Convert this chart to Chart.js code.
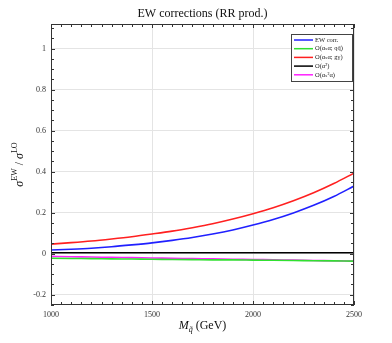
<!DOCTYPE html>
<html>
<head>
<meta charset="utf-8">
<script src="https://cdn.jsdelivr.net/npm/chart.js@4.4.1/dist/chart.umd.min.js"></script>
<style>
  html, body { margin: 0; padding: 0; background: #fff; }
  #wrap { width: 392px; height: 343px; }
</style>
</head>
<body>
<div id="wrap"><canvas id="ewChart" width="392" height="343"></canvas></div>
<script>
// squark mass grid (GeV)
const masses = [1000, 1100, 1200, 1300, 1400, 1500, 1600, 1700, 1800, 1900, 2000, 2100, 2200, 2300, 2400, 2500];

// relative corrections sigma^EW / sigma^LO
const ewCorr   = [0.018, 0.022, 0.027, 0.034, 0.043, 0.053, 0.065, 0.079, 0.096, 0.116, 0.140, 0.167, 0.199, 0.236, 0.279, 0.330];
const qqbarAs  = [-0.022, -0.023, -0.024, -0.025, -0.026, -0.027, -0.028, -0.029, -0.030, -0.030, -0.031, -0.032, -0.033, -0.034, -0.035, -0.036];
const gammaAs  = [0.047, 0.054, 0.062, 0.072, 0.083, 0.096, 0.110, 0.127, 0.146, 0.169, 0.195, 0.224, 0.258, 0.297, 0.342, 0.393];
const alpha2   = [0.005, 0.005, 0.005, 0.005, 0.005, 0.005, 0.005, 0.005, 0.005, 0.005, 0.005, 0.005, 0.005, 0.005, 0.005, 0.005];
const as2alpha = [-0.013, -0.015, -0.016, -0.018, -0.019, -0.021, -0.022, -0.024, -0.025, -0.027, -0.028, -0.030, -0.031, -0.033, -0.034, -0.036];

const seriesLabels = ["EW corr.", "O(αₛα; qq̄)", "O(αₛα; gγ)", "O(α²)", "O(αₛ²α)"];
const seriesColors = ["#2020ff", "#30e030", "#ff2020", "#000000", "#ff20ff"];

// axis ticks
const xTicks = [1000, 1500, 2000, 2500];
const xTickLabels = ["1000", "1500", "2000", "2500"];
const yTicks = [-0.2, 0, 0.2, 0.4, 0.6, 0.8, 1];
const yTickLabels = ["-0.2", "0", "0.2", "0.4", "0.6", "0.8", "1"];

const SERIF = "'Liberation Serif', 'DejaVu Serif', serif";

function toPoints(vals) {
    return masses.map((m, i) => ({ x: m, y: vals[i] }));
}

// frame, inward ticks, title, axis titles and legend
const decorPlugin = {
    id: "decor",
    afterDraw(chart) {
        const ctx = chart.ctx;
        const a = chart.chartArea;
        const xs = chart.scales.x;
        const ys = chart.scales.y;
        ctx.save();

        // frame
        ctx.strokeStyle = "#333";
        ctx.lineWidth = 1;
        ctx.strokeRect(a.left + 0.5, a.top + 0.5, a.right - a.left - 1, a.bottom - a.top - 1);

        // ticks, pointing inward on all four sides
        ctx.beginPath();
        for (let v = 1000; v <= 2500; v += 50) {
            const px = Math.round(xs.getPixelForValue(v)) + 0.5;
            const len = v % 500 === 0 ? 4 : 3;
            ctx.moveTo(px, a.bottom); ctx.lineTo(px, a.bottom - len);
            ctx.moveTo(px, a.top); ctx.lineTo(px, a.top + len);
        }
        for (let k = -5; k <= 22; k++) {
            const v = k * 0.05;
            const py = Math.round(ys.getPixelForValue(v)) + 0.5;
            const len = k % 4 === 0 ? 4 : 3;
            ctx.moveTo(a.left, py); ctx.lineTo(a.left + len, py);
            ctx.moveTo(a.right, py); ctx.lineTo(a.right - len, py);
        }
        ctx.stroke();

        // title
        const cx = (a.left + a.right) / 2;
        ctx.fillStyle = "#111";
        ctx.font = "12px " + SERIF;
        ctx.textAlign = "center";
        ctx.textBaseline = "middle";
        ctx.fillText("EW corrections (RR prod.)", cx, 14);

        // x axis title: M_q~ (GeV)
        ctx.font = "italic 12px " + SERIF;
        const mW = ctx.measureText("M").width;
        ctx.font = "italic 8px " + SERIF;
        const qW = ctx.measureText("q̃").width;
        ctx.font = "12px " + SERIF;
        const gW = ctx.measureText(" (GeV)").width;
        let x0 = cx - (mW + qW + gW) / 2;
        const yT = 326;
        ctx.textAlign = "left";
        ctx.font = "italic 12px " + SERIF;
        ctx.fillText("M", x0, yT);
        ctx.font = "italic 8px " + SERIF;
        ctx.fillText("q̃", x0 + mW, yT + 4);
        ctx.font = "12px " + SERIF;
        ctx.fillText(" (GeV)", x0 + mW + qW, yT);

        // y axis title: sigma^EW / sigma^LO
        ctx.save();
        ctx.translate(20, (a.top + a.bottom) / 2);
        ctx.rotate(-Math.PI / 2);
        const parts = [
            { t: "σ", f: "italic 12px " + SERIF, dy: 0 },
            { t: "EW", f: "8px " + SERIF, dy: -5 },
            { t: " / ", f: "12px " + SERIF, dy: 0 },
            { t: "σ", f: "italic 12px " + SERIF, dy: 0 },
            { t: "LO", f: "8px " + SERIF, dy: -5 }
        ];
        let total = 0;
        parts.forEach(p => { ctx.font = p.f; p.w = ctx.measureText(p.t).width; total += p.w; });
        let px = -total / 2;
        parts.forEach(p => { ctx.font = p.f; ctx.fillText(p.t, px, p.dy); px += p.w; });
        ctx.restore();

        // legend box
        const lx = 291, ly = 34, lw = 61, lh = 47;
        ctx.fillStyle = "#fff";
        ctx.fillRect(lx, ly, lw, lh);
        ctx.strokeStyle = "#444";
        ctx.strokeRect(lx + 0.5, ly + 0.5, lw, lh);
        ctx.font = "6.5px " + SERIF;
        ctx.textBaseline = "middle";
        chart.data.datasets.forEach((ds, i) => {
            const ey = ly + 6 + i * 8.7;
            ctx.strokeStyle = ds.borderColor;
            ctx.lineWidth = 1.5;
            ctx.beginPath();
            ctx.moveTo(lx + 3, ey); ctx.lineTo(lx + 22, ey);
            ctx.stroke();
            ctx.fillStyle = "#222";
            ctx.fillText(ds.label, lx + 24, ey);
        });

        ctx.restore();
    }
};

const chart = new Chart(document.getElementById("ewChart"), {
    type: "line",
    data: {
        datasets: [ewCorr, qqbarAs, gammaAs, alpha2, as2alpha].map((vals, i) => ({
            label: seriesLabels[i],
            data: toPoints(vals),
            borderColor: seriesColors[i],
            backgroundColor: seriesColors[i],
            borderWidth: 1.6,
            pointRadius: 0,
            tension: 0.4,
            cubicInterpolationMode: "monotone",
            fill: false
        }))
    },
    options: {
        responsive: false,
        animation: false,
        devicePixelRatio: 1,
        layout: { padding: { top: 24, right: 38, left: 0, bottom: 0 } },
        plugins: {
            legend: { display: false },
            title: { display: false },
            tooltip: { enabled: false }
        },
        scales: {
            x: {
                type: "linear",
                min: 1000,
                max: 2500,
                afterBuildTicks: s => { s.ticks = xTicks.map(v => ({ value: v })); },
                afterFit: s => { s.height = 38; },
                border: { display: false },
                grid: { color: "#e4e4e4", drawTicks: false },
                ticks: {
                    padding: 5,
                    maxRotation: 0,
                    color: "#333",
                    font: { family: SERIF, size: 8 },
                    callback: v => xTickLabels[xTicks.indexOf(v)]
                }
            },
            y: {
                type: "linear",
                min: -0.25,
                max: 1.12,
                afterBuildTicks: s => { s.ticks = yTicks.map(v => ({ value: v })); },
                afterFit: s => { s.width = 51; },
                border: { display: false },
                grid: { color: "#e4e4e4", drawTicks: false },
                ticks: {
                    padding: 5,
                    color: "#333",
                    font: { family: SERIF, size: 8 },
                    callback: v => yTickLabels[yTicks.findIndex(t => Math.abs(t - v) < 1e-9)]
                }
            }
        }
    },
    plugins: [decorPlugin]
});
</script>
</body>
</html>
